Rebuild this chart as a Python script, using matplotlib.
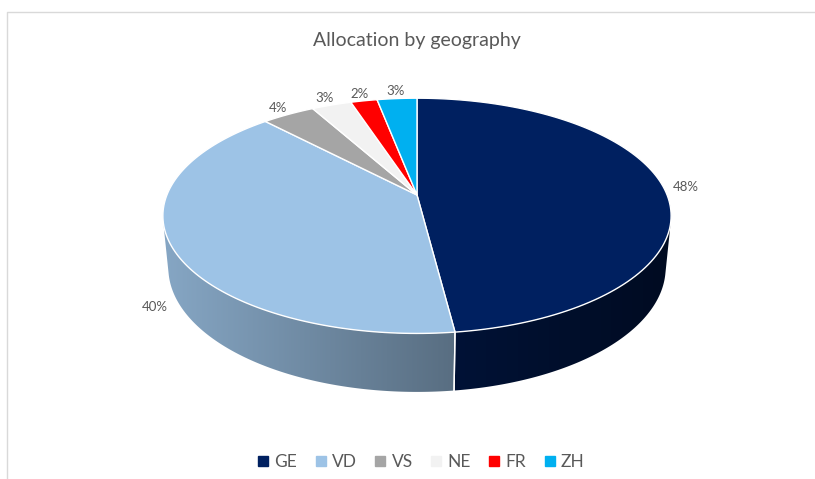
import numpy as np
import matplotlib.pyplot as plt
from matplotlib.patches import Polygon
from matplotlib.lines import Line2D
from matplotlib.colors import to_rgb

# data
regions = ['GE', 'VD', 'VS', 'NE', 'FR', 'ZH']
shares = [48, 40, 4, 3, 2, 3]
colors = ['#002060', '#9DC3E6', '#A5A5A5', '#F2F2F2', '#FF0000', '#00B0F0']
title = 'Allocation by geography'

W, H = 815, 479
fig = plt.figure(figsize=(W / 100, H / 100), dpi=100)
ax = fig.add_axes([0, 0, 1, 1])
ax.set_xlim(0, W)
ax.set_ylim(H, 0)
ax.axis('off')

# simple perspective camera for the 3D pie
phi = np.radians(27.1)
s, c = np.sin(phi), np.cos(phi)
D, f = 5.03, 1258
h = 0.235
cx, cy = 417, 195
R_px = f / D


def proj(x, y, z):
    depth = D - (y * s + z * c)
    return cx + f * x / depth, cy - f * (y * c - z * s) / depth


def rim(theta, r=1.0, y=0.0):
    # theta in radians, clockwise from 12 o'clock (back of the pie)
    return proj(r * np.sin(theta), y, -r * np.cos(theta))


fracs = np.array(shares, dtype=float) / sum(shares)
bounds = np.concatenate([[0], np.cumsum(fracs)]) * 2 * np.pi

# side walls (only the front part is visible), shaded left-to-right
lim = np.arccos(-1 / (D * c))
vis_lo, vis_hi = lim, 2 * np.pi - lim
xs = np.arange(0, W)
xn = np.clip((xs - cx) / R_px, -1, 1)
shade = 0.6 - 0.25 * xn
for i, col in enumerate(colors):
    a0, a1 = max(bounds[i], vis_lo), min(bounds[i + 1], vis_hi)
    if a1 <= a0:
        continue
    ts = np.linspace(a0, a1, 200)
    pts = [rim(t) for t in ts] + [rim(t, y=-h) for t in ts[::-1]]
    poly = Polygon(pts, closed=True, facecolor='none', edgecolor='none')
    ax.add_patch(poly)
    base = np.array(to_rgb(col))
    grad = np.clip(shade[None, :, None] * base[None, None, :], 0, 1)
    im = ax.imshow(grad, extent=(0, W, H, 0), aspect='auto',
                   interpolation='bilinear', zorder=2)
    im.set_clip_path(poly)
    # white seam on the wall at slice edges
    for b in (bounds[i], bounds[i + 1]):
        if vis_lo < b < vis_hi:
            p0, p1 = rim(b), rim(b, y=-h)
            ax.plot([p0[0], p1[0]], [p0[1], p1[1]], color='white', lw=1, zorder=3)
ax.set_xlim(0, W)
ax.set_ylim(H, 0)

# top faces
for i, col in enumerate(colors):
    ts = np.linspace(bounds[i], bounds[i + 1], 120)
    pts = [proj(0, 0, 0)] + [rim(t) for t in ts]
    ax.add_patch(Polygon(pts, closed=True, facecolor=col, edgecolor='white',
                         lw=1, joinstyle='round', zorder=4))

# data labels
for i, v in enumerate(shares):
    tm = (bounds[i] + bounds[i + 1]) / 2
    front = -np.cos(tm) > 0.05
    lx, ly = rim(tm, r=1.09, y=-h if front else 0.0)
    ax.text(lx, ly, f'{v}%', ha='center', va='center', fontsize=9.5,
            color='#595959', family='Lato', zorder=5)

ax.text(417, 40, title, ha='center', va='center', fontsize=14,
        color='#595959', family='Lato')

# chart border (only top and left edges fall inside the image)
ax.plot([7, 7, W + 5], [H + 5, 12, 12], color='#D9D9D9', lw=1, clip_on=False)

handles = [Line2D([], [], ls='none', marker='s', markersize=7.5,
                  markerfacecolor=col, markeredgecolor=col) for col in colors]
leg = fig.legend(handles, regions, loc='center', ncol=6, frameon=False,
                 bbox_to_anchor=(421 / W, 1 - 462 / H), handlelength=0.7,
                 handletextpad=0.3, columnspacing=1.0,
                 prop={'family': 'Lato', 'size': 12.5})
for t in leg.get_texts():
    t.set_color('#595959')

fig.savefig('out.png', dpi=100)
